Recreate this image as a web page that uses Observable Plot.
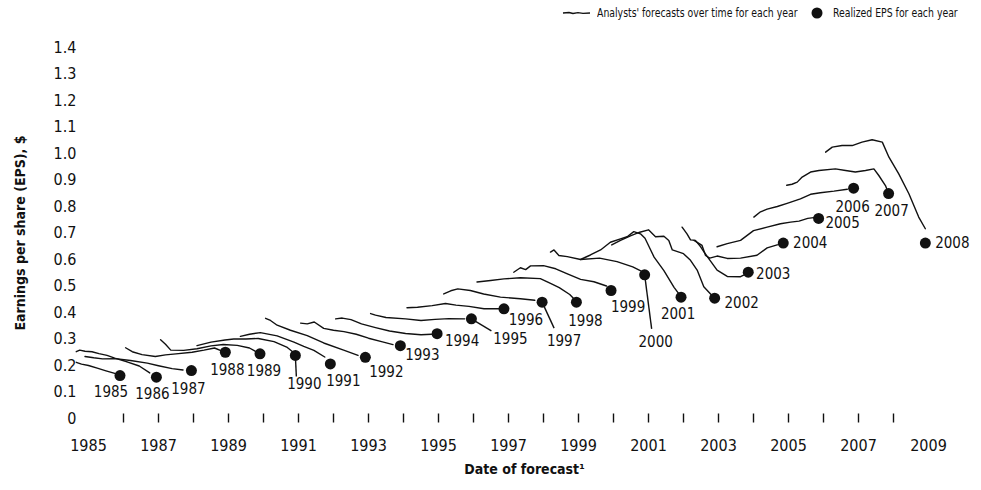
<!DOCTYPE html>
<html>
<head>
<meta charset="utf-8">
<script src="https://cdn.jsdelivr.net/npm/d3@7"></script>
<script src="https://cdn.jsdelivr.net/npm/@observablehq/plot@0.6"></script>
<style>
  body { margin: 0; background: #fff; }
  #wrap { position: relative; width: 981px; font-family: "Liberation Sans Narrow", "DejaVu Sans Condensed", "Arial Narrow", sans-serif; color: #111; }
  #legend { position: relative; height: 28px; font-size: 12.5px; }
  #legend .item { position: absolute; top: 6px; white-space: nowrap; line-height: 14px; transform: scaleX(0.83); transform-origin: left center; }
  #legend svg { position: absolute; }
</style>
</head>
<body>
<div id="wrap">
  <div id="legend">
    <svg style="left:561px;top:8px" width="32" height="10"><path d="M2,5 L8,4.5 L12,5.5 L17,4.6 L22,5.3 L29,5" fill="none" stroke="#111" stroke-width="1.3"/></svg>
    <div class="item" style="left:597px">Analysts' forecasts over time for each year</div>
    <svg style="left:810px;top:6px" width="14" height="14"><circle cx="7" cy="7" r="5.5" fill="#111"/></svg>
    <div class="item" style="left:833px">Realized EPS for each year</div>
  </div>
  <div id="chart"></div>
</div>
<script>
// ---- data ----
const years = [1985,1986,1987,1988,1989,1990,1991,1992,1993,1994,1995,1996,1997,1998,1999,2000,2001,2002,2003,2004,2005,2006,2007,2008];
const realizedEPS = [0.162,0.156,0.181,0.250,0.244,0.238,0.206,0.231,0.275,0.320,0.376,0.414,0.439,0.439,0.483,0.542,0.458,0.454,0.552,0.662,0.755,0.869,0.849,0.662];
const realizedDate = [1985.90,1986.94,1987.94,1988.91,1989.90,1990.91,1991.91,1992.91,1993.91,1994.96,1995.94,1996.87,1997.96,1998.94,1999.93,2000.89,2001.93,2002.89,2003.85,2004.85,2005.86,2006.86,2007.86,2008.91];

// analysts' forecast paths, one per year: [date of forecast, forecast EPS]
const forecastPaths = [
  [[1984.65,0.212],[1984.8,0.205],[1985.0,0.2],[1985.25,0.19],[1985.5,0.18],[1985.75,0.17]],
  [[1984.65,0.252],[1984.75,0.258],[1984.9,0.254],[1985.1,0.252],[1985.3,0.245],[1985.53,0.238],[1985.75,0.228],[1986.1,0.214],[1986.45,0.198],[1986.75,0.172]],
  [[1984.9,0.234],[1985.15,0.229],[1985.4,0.225],[1985.77,0.226],[1986.2,0.219],[1986.68,0.209],[1987.0,0.199],[1987.39,0.188],[1987.7,0.183]],
  [[1986.06,0.267],[1986.25,0.252],[1986.53,0.241],[1986.91,0.234],[1987.2,0.24],[1987.5,0.244],[1987.96,0.25],[1988.3,0.258],[1988.6,0.266],[1988.8,0.255]],
  [[1987.06,0.297],[1987.2,0.28],[1987.35,0.258],[1987.72,0.257],[1988.1,0.263],[1988.5,0.274],[1988.85,0.279],[1989.25,0.276],[1989.6,0.266],[1989.82,0.25]],
  [[1988.1,0.275],[1988.5,0.288],[1988.9,0.296],[1989.15,0.3],[1989.5,0.3],[1989.85,0.302],[1990.3,0.29],[1990.68,0.268],[1990.85,0.25]],
  [[1989.34,0.31],[1989.6,0.318],[1989.91,0.324],[1990.39,0.312],[1990.87,0.288],[1991.15,0.272],[1991.44,0.257],[1991.75,0.232]],
  [[1990.06,0.378],[1990.2,0.37],[1990.39,0.352],[1990.77,0.333],[1991.25,0.313],[1991.72,0.285],[1992.29,0.258],[1992.7,0.238]],
  [[1991.06,0.36],[1991.25,0.357],[1991.45,0.364],[1991.72,0.34],[1992.0,0.333],[1992.3,0.328],[1992.65,0.318],[1993.0,0.303],[1993.4,0.289],[1993.7,0.279]],
  [[1992.06,0.376],[1992.25,0.379],[1992.5,0.373],[1992.8,0.357],[1993.2,0.343],[1993.6,0.33],[1994.06,0.321],[1994.5,0.316],[1994.8,0.318]],
  [[1993.06,0.396],[1993.2,0.39],[1993.5,0.381],[1994.06,0.376],[1994.5,0.37],[1994.9,0.374],[1995.3,0.377],[1995.75,0.376]],
  [[1994.1,0.418],[1994.4,0.42],[1994.82,0.426],[1995.2,0.434],[1995.5,0.428],[1995.87,0.423],[1996.3,0.414],[1996.72,0.414]],
  [[1995.15,0.47],[1995.35,0.482],[1995.55,0.489],[1995.91,0.483],[1996.29,0.47],[1996.77,0.458],[1997.34,0.452],[1997.75,0.446]],
  [[1996.1,0.515],[1996.49,0.521],[1996.87,0.527],[1997.34,0.531],[1997.91,0.528],[1998.2,0.51],[1998.45,0.494],[1998.75,0.468],[1998.88,0.45]],
  [[1997.15,0.552],[1997.34,0.569],[1997.49,0.562],[1997.63,0.576],[1998.0,0.577],[1998.35,0.565],[1998.7,0.545],[1999.06,0.525],[1999.44,0.516],[1999.8,0.5]],
  [[1998.2,0.628],[1998.3,0.636],[1998.44,0.615],[1998.68,0.611],[1999.06,0.6],[1999.6,0.605],[2000.1,0.592],[2000.55,0.572],[2000.85,0.552]],
  [[1999.06,0.6],[1999.34,0.617],[1999.63,0.636],[1999.91,0.665],[2000.2,0.678],[2000.39,0.686],[2000.58,0.705],[2000.77,0.697],[2000.9,0.68],[2001.0,0.653],[2001.16,0.609],[2001.44,0.558],[2001.73,0.495],[2001.87,0.47]],
  [[1999.95,0.655],[2000.2,0.672],[2000.5,0.69],[2000.75,0.703],[2001.0,0.712],[2001.2,0.686],[2001.44,0.688],[2001.58,0.672],[2001.68,0.636],[2002.0,0.622],[2002.2,0.597],[2002.39,0.56],[2002.58,0.497],[2002.8,0.466]],
  [[2001.96,0.722],[2002.1,0.697],[2002.2,0.674],[2002.34,0.672],[2002.49,0.648],[2002.58,0.63],[2002.68,0.611],[2002.96,0.56],[2003.25,0.536],[2003.63,0.535],[2003.78,0.545]],
  [[2002.3,0.672],[2002.53,0.653],[2002.63,0.615],[2002.75,0.605],[2002.96,0.613],[2003.25,0.604],[2003.63,0.605],[2004.1,0.616],[2004.39,0.644],[2004.7,0.656],[2004.78,0.66]],
  [[2002.96,0.648],[2003.25,0.66],[2003.63,0.672],[2004.0,0.709],[2004.39,0.722],[2004.77,0.735],[2005.06,0.741],[2005.3,0.745],[2005.55,0.755],[2005.72,0.758]],
  [[2004.01,0.76],[2004.2,0.78],[2004.39,0.79],[2004.68,0.8],[2004.96,0.812],[2005.34,0.829],[2005.63,0.846],[2005.91,0.852],[2006.3,0.858],[2006.68,0.865]],
  [[2004.95,0.88],[2005.1,0.884],[2005.25,0.892],[2005.39,0.911],[2005.63,0.93],[2005.87,0.936],[2006.34,0.942],[2006.63,0.936],[2006.91,0.93],[2007.2,0.936],[2007.44,0.942],[2007.58,0.917],[2007.77,0.879],[2007.82,0.862]],
  [[2006.06,1.005],[2006.25,1.024],[2006.53,1.03],[2006.82,1.03],[2007.1,1.043],[2007.39,1.052],[2007.68,1.043],[2007.87,0.986],[2008.15,0.923],[2008.44,0.848],[2008.72,0.76],[2008.91,0.716]]
];

const xLabelYears = [1985,1987,1989,1991,1993,1995,1997,1999,2001,2003,2005,2007,2009];
const xTickYears = [1986,1987,1988,1989,1990,1991,1992,1993,1994,1995,1996,1997,1998,1999,2000,2001,2002,2003,2004,2005,2006,2007,2008];
const yTicks = [0,0.1,0.2,0.3,0.4,0.5,0.6,0.7,0.8,0.9,1.0,1.1,1.2,1.3,1.4];

// ---- styling: label offsets (px) from each realized dot ----
const labelDx = [-9,-4,-3,2,4,9,13,21,22,25,39,22,22,9,17,11,-3,27,25,27,24,-1,3,27];
const labelDy = [17,17,19,18,17,29,17,15,10,7,20,11,39,19,17,67,17,5,2,0,5,19,18,0];
const leaders = [ // year, end offset px
  {year: 1990, dx: 1, dy: 21},
  {year: 1995, dx: 20, dy: 12},
  {year: 1997, dx: 12, dy: 26},
  {year: 2000, dx: 7, dy: 54}
];

// ---- build ----
const W = 981, H = 462, ML = 88, MR = 53, MT = 19, MB = 72;
const pxYear = (W - ML - MR) / (2009 - 1985);
const pxEps = (H - MT - MB) / 1.4;
const FONT = '"Liberation Sans Narrow", "DejaVu Sans Condensed", "Arial Narrow", sans-serif';

const forecastRows = forecastPaths.flatMap((p, i) => p.map(([date, eps]) => ({year: years[i], date, eps})));
const realized = years.map((y, i) => ({year: y, date: realizedDate[i], eps: realizedEPS[i]}));
const leaderRows = leaders.map(l => {
  const r = realized.find(d => d.year === l.year);
  return {x1: r.date, y1: r.eps, x2: r.date + l.dx / pxYear, y2: r.eps - l.dy / pxEps};
});

const labelMarks = realized.map((d, i) => Plot.text([d], {
  x: "date", y: "eps", text: d => String(d.year), dx: labelDx[i], dy: labelDy[i],
  fontSize: 15, fill: "#111", textAnchor: "middle"
}));

const chart = Plot.plot({
  width: W, height: H,
  marginLeft: ML, marginRight: MR, marginTop: MT, marginBottom: MB,
  x: {domain: [1985, 2009]},
  y: {domain: [0, 1.4]},
  style: {fontFamily: FONT, fontSize: "16px", color: "#111", background: "#fff", overflow: "visible"},
  marks: [
    Plot.axisY(yTicks, {tickSize: 0, tickPadding: 12, tickFormat: d => d === 0 ? "0" : d.toFixed(1), fontSize: 16, label: null}),
    Plot.axisX(xLabelYears, {tickSize: 0, tickPadding: 21, tickFormat: d => String(d), fontSize: 16, label: null}),
    Plot.ruleX(xTickYears, {x: d => d, y1: -0.017, y2: 0.017, stroke: "#111", strokeWidth: 1.4}),
    Plot.line(forecastRows, {x: "date", y: "eps", z: "year", stroke: "#111", strokeWidth: 1.4, curve: "linear"}),
    Plot.link(leaderRows, {x1: "x1", y1: "y1", x2: "x2", y2: "y2", stroke: "#111", strokeWidth: 1.4}),
    Plot.dot(realized, {x: "date", y: "eps", r: 5.5, fill: "#111", stroke: "none"}),
    ...labelMarks,
    Plot.text(["Earnings per share (EPS), $"], {frameAnchor: "left", textAnchor: "middle", rotate: -90, dx: -68, dy: 0, fontWeight: "bold", fontSize: 14, fill: "#111"}),
    Plot.text(["Date of forecast\u00b9"], {frameAnchor: "bottom", textAnchor: "middle", dx: 16, dy: 55, fontWeight: "bold", fontSize: 14, fill: "#111"})
  ]
});
document.getElementById("chart").appendChild(chart);
</script>
</body>
</html>
